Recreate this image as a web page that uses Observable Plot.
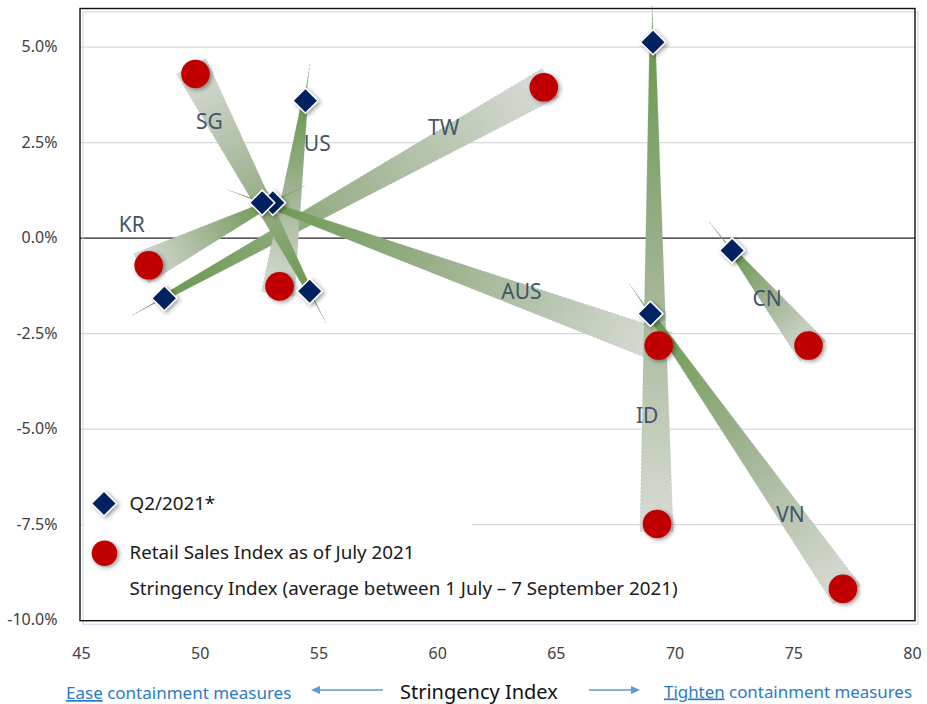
<!DOCTYPE html>
<html>
<head>
<meta charset="utf-8">
<script src="https://cdn.jsdelivr.net/npm/d3@7"></script>
<script src="https://cdn.jsdelivr.net/npm/@observablehq/plot@0.6"></script>
<style>
  body { margin: 0; background: #fff; }
  #chart svg { display: block; }
</style>
</head>
<body>
<div id="chart"></div>
<script>
// Country codes, in drawing order (later ones sit on top)
const countries = ["TW", "US", "KR", "SG", "AUS", "ID", "VN", "CN"];

// Q2/2021: Stringency Index (x) and retail sales change, % (y)
const q2Stringency = [48.49, 54.43, 53.06, 54.61, 52.61, 69.07, 68.96, 72.40];
const q2Retail     = [-1.57,  3.60,  0.93, -1.39,  0.93,  5.13, -1.98, -0.32];

// July 2021 retail sales vs. Stringency Index averaged 1 July – 7 September 2021
const julStringency = [64.47, 53.34, 47.83, 49.80, 69.31, 69.24, 77.07, 75.62];
const julRetail     = [ 3.95, -1.26, -0.71,  4.30, -2.81, -7.48, -9.18, -2.81];

const xTicks = [45, 50, 55, 60, 65, 70, 75, 80];
const yTicks = [-10, -7.5, -5, -2.5, 0, 2.5, 5];

const legendLabels = [
  "Q2/2021*",
  "Retail Sales Index as of July 2021",
  "Stringency Index (average between 1 July – 7 September 2021)"
];
const axisTitle = "Stringency Index";
const easeNote = ["Ease", " containment measures"];
const tightenNote = ["Tighten", " containment measures"];

// where each country tag sits: fraction along its arrow plus a pixel nudge
const tagPlacement = {
  TW: {t: 0.736, dx: 0, dy: -15},
  US: {t: 0.237, dx: 18, dy: 0},
  KR: {t: 1, dx: -17, dy: -40.5},
  SG: {t: 0.777, dx: -11.5, dy: 0},
  AUS: {t: 0.654, dx: 0, dy: -3.5},
  ID: {t: 0.776, dx: -9, dy: 0},
  VN: {t: 0.733, dx: -1, dy: 0},
  CN: {t: 0.516, dx: -4.5, dy: 0}
};

const FONT = "'Noto Sans', 'Open Sans', sans-serif";

// shadow filter shared by the markers
function shadowDefs() {
  const svg = d3.create("svg:g");
  const f = svg.append("defs").append("filter")
    .attr("id", "mk-shadow").attr("x", "-50%").attr("y", "-50%")
    .attr("width", "200%").attr("height", "200%");
  f.append("feDropShadow").attr("dx", 2).attr("dy", 1.5)
    .attr("stdDeviation", 2.2).attr("flood-color", "#000").attr("flood-opacity", 0.4);
  return svg.node();
}

// chart frame (black border with a faint offset edge)
function frame(index, scales, values, dims) {
  const g = d3.create("svg:g");
  const x0 = dims.marginLeft - 1, x1 = dims.width - dims.marginRight + 3;
  const y0 = dims.marginTop, y1 = dims.height - dims.marginBottom + 1;
  g.append("rect").attr("x", x0 + 3).attr("y", y0 + 3.5)
    .attr("width", x1 - x0).attr("height", y1 - y0)
    .attr("fill", "none").attr("stroke", "#c9d5e8").attr("stroke-width", 1);
  g.append("rect").attr("x", x0).attr("y", y0)
    .attr("width", x1 - x0).attr("height", y1 - y0)
    .attr("fill", "none").attr("stroke", "#111").attr("stroke-width", 1.4);
  return g.node();
}

// white panel behind the legend
function legendPanel(index, scales, values, dims) {
  const g = d3.create("svg:g");
  g.append("rect")
    .attr("x", dims.marginLeft + 1).attr("y", dims.height - dims.marginBottom - 135)
    .attr("width", 390).attr("height", 130).attr("fill", "#fff");
  return g.node();
}

// tapered arrows from the Q2 diamond to the July circle
function arrows(index, scales) {
  const g = d3.create("svg:g");
  const defs = g.append("defs");
  countries.forEach((c, i) => {
    const ax = scales.x(q2Stringency[i]), ay = scales.y(q2Retail[i]);
    const bx = scales.x(julStringency[i]), by = scales.y(julRetail[i]);
    const len = Math.hypot(bx - ax, by - ay);
    const ux = (bx - ax) / len, uy = (by - ay) / len;
    const nx = -uy, ny = ux;
    const tail = 36, ext = 8, wt = 0.7, w0 = 3, w1 = 16.5;
    const pts = [
      [ax - ux * tail, ay - uy * tail],
      [ax + nx * wt, ay + ny * wt],
      [ax + nx * w0, ay + ny * w0],
      [bx + ux * ext + nx * w1, by + uy * ext + ny * w1],
      [bx + ux * ext - nx * w1, by + uy * ext - ny * w1],
      [ax - nx * w0, ay - ny * w0],
      [ax - nx * wt, ay - ny * wt]
    ];
    const grad = defs.append("linearGradient")
      .attr("id", `arrow-grad-${i}`).attr("gradientUnits", "userSpaceOnUse")
      .attr("x1", ax).attr("y1", ay).attr("x2", bx + ux * ext).attr("y2", by + uy * ext);
    grad.append("stop").attr("offset", 0).attr("stop-color", "#6a994e");
    grad.append("stop").attr("offset", 0.4).attr("stop-color", "#97ae86");
    grad.append("stop").attr("offset", 1).attr("stop-color", "#d9dcd7");
    g.append("path")
      .attr("d", "M" + pts.map(p => p.join(",")).join("L") + "Z")
      .attr("fill", `url(#arrow-grad-${i})`)
      .attr("stroke", "#8d9ab2").attr("stroke-width", 0.6)
      .attr("stroke-dasharray", "2,2").attr("stroke-opacity", 0.55);
  });
  return g.node();
}

// axis title and direction notes under the chart
function bottomNotes(index, scales, values, dims) {
  const g = d3.create("svg:g").attr("font-family", FONT).attr("text-anchor", "start");
  const blue = "#2a7ac7", arrowBlue = "#5b9bd5";
  const t1 = g.append("text").attr("x", 66).attr("y", 699)
    .attr("font-size", 17).attr("fill", blue);
  t1.append("tspan").attr("text-decoration", "underline").text(easeNote[0]);
  t1.append("tspan").text(easeNote[1]);
  g.append("text").attr("x", 400).attr("y", 698.5)
    .attr("font-size", 20).attr("fill", "#111").text(axisTitle);
  const t2 = g.append("text").attr("x", 664).attr("y", 697.5)
    .attr("font-size", 16.9).attr("fill", blue);
  t2.append("tspan").attr("text-decoration", "underline").text(tightenNote[0]);
  t2.append("tspan").text(tightenNote[1]);
  // direction arrows
  g.append("line").attr("x1", 383).attr("x2", 318).attr("y1", 690).attr("y2", 690)
    .attr("stroke", arrowBlue).attr("stroke-width", 1.3);
  g.append("path").attr("d", "M311,690L320,686L320,694Z").attr("fill", arrowBlue);
  g.append("line").attr("x1", 589).attr("x2", 632).attr("y1", 690).attr("y2", 690)
    .attr("stroke", arrowBlue).attr("stroke-width", 1.3);
  g.append("path").attr("d", "M640,690L631,686L631,694Z").attr("fill", arrowBlue);
  return g.node();
}

// one text mark per country so each can carry its own nudge
const countryTags = countries.map((c, i) => {
  const p = tagPlacement[c];
  return Plot.text([i], {
    x: j => q2Stringency[j] + p.t * (julStringency[j] - q2Stringency[j]),
    y: j => q2Retail[j] + p.t * (julRetail[j] - q2Retail[j]),
    dx: p.dx, dy: p.dy,
    text: j => countries[j],
    fill: "#44546a", fontSize: 21
  });
});

const legendRows = [-116.7, -67.7, -31.7];
const legendTexts = legendLabels.map((label, k) =>
  Plot.text([label], {frameAnchor: "bottom-left", textAnchor: "start", lineAnchor: "middle",
    dx: 48, dy: legendRows[k], text: d => d, fill: "#1a1a1a", fontSize: 18.8})
);

const chart = Plot.plot({
  width: 927,
  height: 704,
  marginLeft: 81,
  marginRight: 15,
  marginTop: 8.5,
  marginBottom: 84.3,
  style: {fontFamily: FONT, fontSize: "16px", background: "#fff", color: "#404040"},
  x: {domain: [45, 80], label: null},
  y: {domain: [-10, 6], label: null},
  marks: [
    shadowDefs,
    Plot.ruleY(yTicks.filter(d => d !== 0 && d !== -10), {stroke: "#d9d9d9", strokeWidth: 1.3, insetLeft: -1, insetRight: -3}),
    legendPanel,
    Plot.ruleY([0], {stroke: "#222", strokeWidth: 1.3, insetLeft: -1, insetRight: -3}),
    frame,
    Plot.axisX(xTicks, {tickSize: 0, tickPadding: 27, label: null, fill: "#404040", fontSize: 16}),
    Plot.axisY(yTicks, {tickSize: 0, tickPadding: 24, label: null, fill: "#404040", fontSize: 16,
      tickFormat: d => d.toFixed(1) + "%"}),
    arrows,
    Plot.dot(countries, {
      x: (d, i) => julStringency[i], y: (d, i) => julRetail[i],
      r: 14.3, fill: "#c00000", stroke: "none"
    }),
    Plot.dot(countries, {
      x: (d, i) => q2Stringency[i], y: (d, i) => q2Retail[i],
      symbol: "diamond2", r: 11.3, fill: "#002060", stroke: "#fff", strokeWidth: 1.5
    }),
    ...countryTags,
    // legend
    Plot.dot([0], {frameAnchor: "bottom-left", dx: 22.5, dy: -116.7, symbol: "diamond2", r: 11.3, fill: "#002060", stroke: "#fff", strokeWidth: 1.5}),
    Plot.dot([0], {frameAnchor: "bottom-left", dx: 23, dy: -67, r: 12.8, fill: "#c00000"}),
    ...legendTexts,
    bottomNotes
  ]
});
// soft drop shadow under every marker
d3.select(chart).selectAll("g[aria-label='dot'] path, g[aria-label='dot'] circle")
  .attr("filter", "url(#mk-shadow)");
document.getElementById("chart").append(chart);
</script>
</body>
</html>
